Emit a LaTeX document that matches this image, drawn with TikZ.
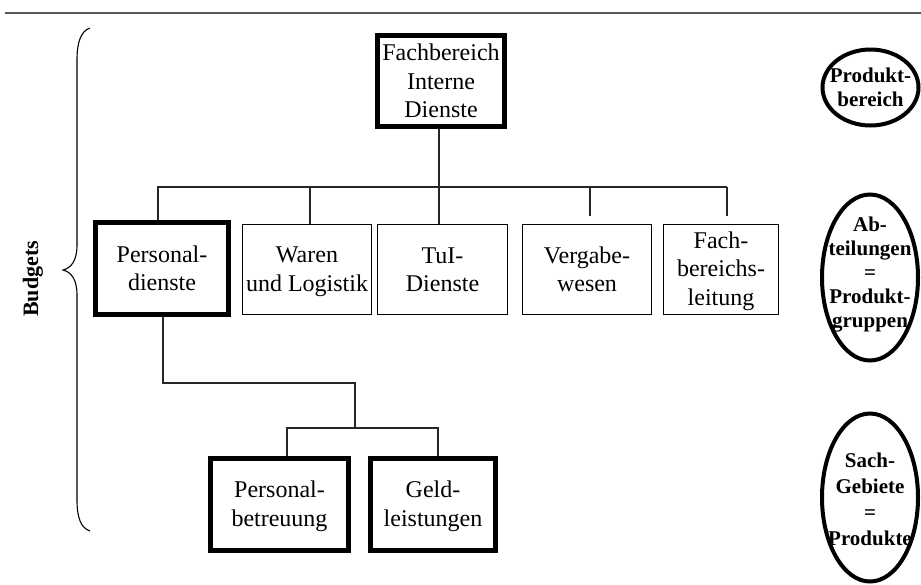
\documentclass[tikz,border=0pt]{standalone}
\usepackage{fontspec}
\setmainfont{Liberation Serif}
\usetikzlibrary{shapes.geometric}
% fixed line height so every box centres its text the same way
\newcommand\boxstrut{\rule[-4pt]{0pt}{24pt}}
\begin{document}
\begin{tikzpicture}[x=1pt,y=-1pt,
  unitbox/.style={draw=black, fill=white, inner sep=0pt, align=center,
    font=\fontsize{24}{28.5}\selectfont},
  heavybox/.style={unitbox, line width=5pt},
  lightbox/.style={unitbox, line width=1.4pt},
  level/.style={ellipse, draw=black, line width=4pt, inner sep=0pt},
  leveltext/.style={align=center, inner sep=0pt,
    font=\fontsize{21}{24}\selectfont\bfseries},
  link/.style={draw=black!85, line width=1.2pt},
]
\useasboundingbox (0,0) rectangle (921,584);

% header rule
\draw[line width=2.5pt, black!65] (5,13) -- (921,13);

% top unit
\node[heavybox, minimum width=127pt, minimum height=91pt] (fb) at (441,81)
  {\boxstrut Fachbereich\\Interne\\Dienste\boxstrut};

% departments
\node[heavybox, minimum width=133pt, minimum height=92pt] (pd) at (162,268.5)
  {\boxstrut Personal-\\dienste\boxstrut};
\node[lightbox, minimum width=129pt, minimum height=90pt] (ww) at (307,269.5)
  {\boxstrut Waren\\und Logistik\boxstrut};
\node[lightbox, minimum width=130pt, minimum height=90pt] (tui) at (442.5,269.5)
  {\boxstrut TuI-\\Dienste\boxstrut};
\node[lightbox, minimum width=129pt, minimum height=90pt] (vw) at (587,269.5)
  {\boxstrut Vergabe-\\wesen\boxstrut};
\node[lightbox, minimum width=115pt, minimum height=90pt] (fbl) at (721,269.5)
  {\boxstrut Fach-\\bereichs-\\leitung\boxstrut};

% sections
\node[heavybox, minimum width=138pt, minimum height=92pt] (pb) at (279.5,504.5)
  {\boxstrut Personal-\\betreuung\boxstrut};
\node[heavybox, minimum width=125pt, minimum height=92pt] (gl) at (433,504.5)
  {\boxstrut Geld-\\leistungen\boxstrut};

% connector points
\coordinate (busL) at (158,187);
\coordinate (busR) at (727,187);
\coordinate (dWW) at (310,187);
\coordinate (dTU) at (439,187);
\coordinate (dVW) at (590,187);
\coordinate (k1) at (163,383);
\coordinate (k2) at (355,428);
\coordinate (sL) at (287,428);
\coordinate (sR) at (438,428);

% connectors
\draw[link] (fb.south -| dTU) -- (tui.north -| dTU);
\draw[link] (pd.north -| busL) -- (busL) -- (busR);
\draw[link] (dWW) -- (ww.north -| dWW);
\draw[link, shorten >=8pt] (dVW) -- (vw.north -| dVW);
\draw[link, shorten >=8pt] (busR) -- (fbl.north -| busR);
\draw[link] (pd.south -| k1) -- (k1) -| (k2);
\draw[link] (pb.north -| sL) -- (sL) -- (sR) -- (gl.north -| sR);

% level labels
\node[level, minimum width=96pt, minimum height=76pt] (e1) at (870.5,87.5) {};
\node[leveltext] (t1) at (e1) {Produkt-\\bereich};
\node[level, minimum width=96pt, minimum height=166pt] (e2) at (870,277.5) {};
\node[leveltext] (t2) at ([yshift=3pt]e2) {Ab-\\teilungen\\=\\Produkt-\\gruppen};
\node[level, minimum width=96pt, minimum height=168pt] (e3) at (870,497.5) {};
\node[leveltext, font=\fontsize{21}{26}\selectfont\bfseries] (t3) at ([yshift=-1.5pt]e3)
  {Sach-\\Gebiete\\=\\Produkte};

% budget brace
\draw[line width=1.1pt] (90,28) .. controls (81,31) and (77,42) .. (77,60)
  -- (77,245) .. controls (77,261) and (71,268) .. (63,270)
  .. controls (71,272) and (77,279) .. (77,295)
  -- (77,500) .. controls (77,518) and (81,528) .. (90,531);
\node[rotate=90, inner sep=0pt, font=\fontsize{22}{24}\selectfont\bfseries]
  (budgets) at (33,279) {Budgets};
\end{tikzpicture}
\end{document}
